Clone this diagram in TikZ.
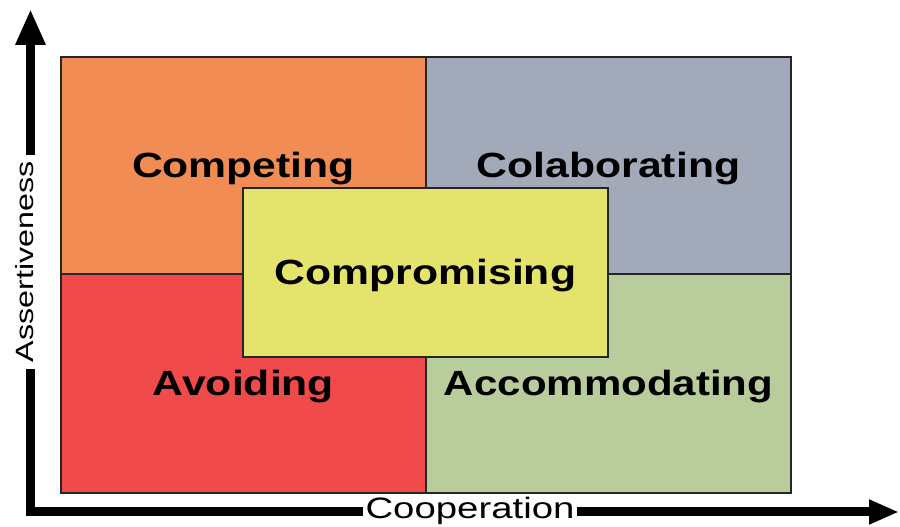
\documentclass[tikz,border=0pt]{standalone}
\usepackage{fontspec}
\setmainfont{Liberation Sans}
\usetikzlibrary{arrows.meta}
\newcommand{\stxt}[3]{\scalebox{#1}[1]{\fontsize{#2pt}{#2pt}\selectfont #3}}
\definecolor{qorange}{HTML}{F08C54}
\definecolor{qslate}{HTML}{A2A9B8}
\definecolor{qred}{HTML}{F04A4A}
\definecolor{qgreen}{HTML}{B8CC9C}
\definecolor{qyellow}{HTML}{E4E46C}
\begin{document}
\begin{tikzpicture}[x=1pt,y=1pt,
  quad/.style={draw=black!85, line width=1.3pt, minimum width=365pt,
    inner sep=0pt, text height=25pt, text depth=0pt, font=\bfseries},
  axis/.style={line width=9pt, draw=black},
  axlab/.style={fill=white, inner ysep=2pt, text=black}]
\useasboundingbox (0,0) rectangle (900,527);
% quadrants
\node[quad, fill=qorange, minimum height=217pt] (competing) at (243.5,361.5) {\stxt{1.22}{35}{Competing}};
\node[quad, fill=qslate, minimum height=217pt] (colab) at (608.5,361.5) {\stxt{1.22}{35}{Colaborating}};
\node[quad, fill=qred, minimum height=219pt] (avoid) at (243.5,143.5) {\stxt{1.22}{35}{Avoiding}};
\node[quad, fill=qgreen, minimum height=219pt] (accom) at (608.5,143.5) {\stxt{1.2}{35}{Accommodating}};
\node[quad, fill=qyellow, minimum height=169pt] (compro) at (425.5,254.5) {\stxt{1.22}{35}{Compromising}};
% axes
\coordinate (ytip) at (30.5,518);
\coordinate (xtip) at (899,15);
\draw[axis, {Triangle[width=28pt,length=36pt]}-{Triangle[width=23pt,length=30pt]}] (ytip) |- (xtip);
\node[axlab, anchor=base, inner xsep=2.5pt] (coop) at (470,8) {\stxt{1.3}{29.5}{Cooperation}};
\node[axlab, anchor=base, rotate=90, inner xsep=6.5pt] (assert) at (33,265) {\stxt{1.29}{25}{Assertiveness}};
\end{tikzpicture}
\end{document}
